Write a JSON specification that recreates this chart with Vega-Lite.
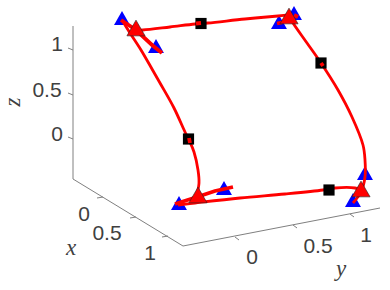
{
"$schema":"https://vega.github.io/schema/vega-lite/v6.json",
"width":390,"height":290,"autosize":{"type":"fit","contains":"padding"},"padding":0,
"background":"white",
"view":{"stroke":null},
"datasets":{
"axes":[
{"g":"z","i":1,"u":73,"v":26},{"g":"z","i":2,"u":73,"v":179},{"g":"z","i":3,"u":183,"v":246},{"g":"z","i":4,"u":380,"v":208},
{"g":"t1","i":1,"u":68,"v":48},{"g":"t1","i":2,"u":73,"v":50},
{"g":"t2","i":1,"u":68,"v":93},{"g":"t2","i":2,"u":73,"v":95},
{"g":"t3","i":1,"u":68,"v":137},{"g":"t3","i":2,"u":73,"v":139},
{"g":"t4","i":1,"u":97,"v":198},{"g":"t4","i":2,"u":103,"v":197},
{"g":"t5","i":1,"u":130,"v":218},{"g":"t5","i":2,"u":136,"v":217},
{"g":"t6","i":1,"u":162,"v":237},{"g":"t6","i":2,"u":168,"v":236},
{"g":"t7","i":1,"u":235,"v":237},{"g":"t7","i":2,"u":239,"v":240},
{"g":"t8","i":1,"u":293,"v":225},{"g":"t8","i":2,"u":297,"v":228},
{"g":"t9","i":1,"u":350,"v":214},{"g":"t9","i":2,"u":354,"v":217}
],
"labels":[
{"t":"1","u":57,"v":45},{"t":"0.5","u":47,"v":91},{"t":"0","u":57,"v":135},
{"t":"0","u":84,"v":215},{"t":"0.5","u":107,"v":234},{"t":"1","u":150,"v":254},
{"t":"0","u":252,"v":258},{"t":"0.5","u":318,"v":247},{"t":"1","u":366,"v":236}
],
"names":[
{"t":"z","u":13,"v":102,"a":-90},{"t":"x","u":71,"v":248,"a":0},{"t":"y","u":341,"v":269,"a":0}
],
"curve":[
{"g":"a","i":1,"u":122,"v":20},{"g":"a","i":2,"u":130,"v":33},{"g":"a","i":3,"u":141,"v":50},{"g":"a","i":4,"u":152,"v":69},{"g":"a","i":5,"u":160,"v":83},{"g":"a","i":6,"u":174,"v":108},{"g":"a","i":7,"u":185,"v":132},{"g":"a","i":8,"u":189,"v":140},
{"g":"a","i":9,"u":194,"v":152},{"g":"a","i":10,"u":198,"v":170},{"g":"a","i":11,"u":199,"v":183},{"g":"a","i":12,"u":197,"v":194},
{"g":"b","i":1,"u":178,"v":205},{"g":"b","i":2,"u":195,"v":203},{"g":"b","i":3,"u":240,"v":198},{"g":"b","i":4,"u":285,"v":194},{"g":"b","i":5,"u":323,"v":190},{"g":"b","i":6,"u":335,"v":188},{"g":"b","i":7,"u":355,"v":188},{"g":"b","i":8,"u":361,"v":190},
{"g":"c","i":1,"u":353,"v":203},{"g":"c","i":2,"u":361,"v":192},{"g":"c","i":3,"u":365,"v":177},{"g":"c","i":4,"u":365,"v":160},{"g":"c","i":5,"u":363,"v":145},{"g":"c","i":6,"u":352,"v":117},{"g":"c","i":7,"u":338,"v":90},{"g":"c","i":8,"u":321,"v":63},{"g":"c","i":9,"u":307,"v":43},{"g":"c","i":10,"u":293,"v":23},{"g":"c","i":11,"u":289,"v":16},
{"g":"d","i":1,"u":289,"v":15},{"g":"d","i":2,"u":278,"v":16},{"g":"d","i":3,"u":245,"v":19},{"g":"d","i":4,"u":208,"v":23},{"g":"d","i":5,"u":195,"v":24},{"g":"d","i":6,"u":170,"v":27},{"g":"d","i":7,"u":143,"v":30},{"g":"d","i":8,"u":137,"v":30}
],
"thick":[
{"g":"a","i":1,"u":121,"v":20},{"g":"a","i":2,"u":136,"v":30},{"g":"a","i":3,"u":152,"v":45},{"g":"a","i":4,"u":162,"v":53},
{"g":"b","i":1,"u":175,"v":204},{"g":"b","i":2,"u":197,"v":197},{"g":"b","i":3,"u":215,"v":191},{"g":"b","i":4,"u":233,"v":187},
{"g":"c","i":1,"u":277,"v":23.5},{"g":"c","i":2,"u":282,"v":22.5},
{"g":"d","i":1,"u":294,"v":15},{"g":"d","i":2,"u":298,"v":17},
{"g":"e","i":1,"u":196,"v":23.5},{"g":"e","i":2,"u":201,"v":23},
{"g":"f","i":1,"u":321,"v":63},{"g":"f","i":2,"u":323,"v":66},
{"g":"h","i":1,"u":189,"v":138},{"g":"h","i":2,"u":190,"v":143}
],
"blue":[
{"u":122,"v":18},{"u":156,"v":46},{"u":179,"v":203},{"u":224,"v":188},{"u":353,"v":200},{"u":365,"v":173},{"u":279,"v":22},{"u":294,"v":13}
],
"red":[
{"u":136,"v":28},{"u":198,"v":195},{"u":361,"v":189},{"u":289,"v":16}
],
"black":[
{"u":201,"v":23.5},{"u":321,"v":63},{"u":188.5,"v":139},{"u":329,"v":190}
]
},
"encoding":{
"x":{"field":"u","type":"quantitative","scale":{"domain":[0,390],"nice":false,"zero":false},"axis":null},
"y":{"field":"v","type":"quantitative","scale":{"domain":[290,0],"nice":false,"zero":false},"axis":null}
},
"layer":[
{"data":{"name":"axes"},"mark":{"type":"line","color":"#808080","strokeWidth":1},
"encoding":{"detail":{"field":"g"},"order":{"field":"i","type":"quantitative"}}},
{"data":{"name":"labels"},"mark":{"type":"text","font":"Liberation Sans","fontSize":21,"color":"#404040","align":"center","baseline":"middle"},
"encoding":{"text":{"field":"t"}}},
{"data":{"name":"names"},"mark":{"type":"text","font":"Liberation Serif","fontStyle":"italic","fontSize":23,"color":"#404040","align":"center","baseline":"middle"},
"encoding":{"text":{"field":"t"},"angle":{"field":"a","type":"quantitative","scale":null}}},
{"data":{"name":"blue"},"mark":{"type":"point","shape":"triangle-up","filled":true,"color":"#0000ff","size":255,"opacity":1}},
{"data":{"name":"curve"},"mark":{"type":"line","color":"#ff0000","strokeWidth":2.8,"interpolate":"catmull-rom"},
"encoding":{"detail":{"field":"g"},"order":{"field":"i","type":"quantitative"}}},
{"data":{"name":"black"},"mark":{"type":"square","filled":true,"color":"black","size":125,"opacity":1}},
{"data":{"name":"thick"},"mark":{"type":"line","color":"#ff0000","strokeWidth":3.8},
"encoding":{"detail":{"field":"g"},"order":{"field":"i","type":"quantitative"}}},
{"data":{"name":"red"},"mark":{"type":"point","shape":"triangle-up","filled":true,"color":"#ff0000","stroke":"#222222","strokeWidth":0.6,"size":330,"opacity":1}}
]
}
